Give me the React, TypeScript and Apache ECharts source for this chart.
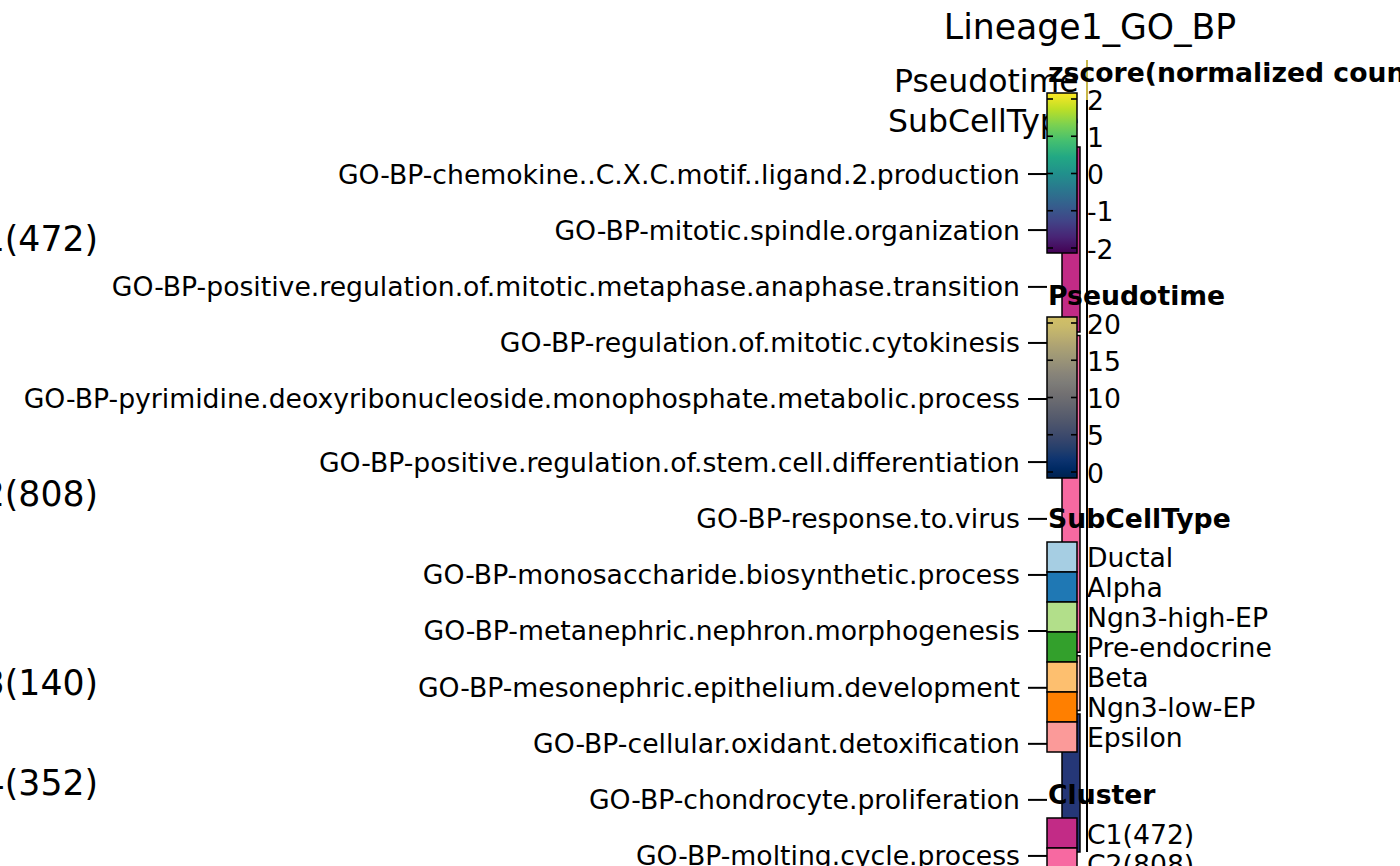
import React, { useEffect, useRef } from "react";
import * as echarts from "echarts";

const FONT = "DejaVu Sans";
const FS = 26.67; // 10pt at 192 dpi
const FS_BIG = 34.67; // 13pt at 192 dpi
const FS_ANNO = 31.5;

const titleText = "Lineage1_GO_BP";
const clusterNames = ["C1", "C2", "C3", "C4"];
const clusterCounts = [472, 808, 140, 352];
const clusterColors = ["#c22b86", "#f769a1", "#fcc5c1", "#253777"];
const SLICE_GAP = 9;

const goTerms = [
  "GO-BP-chemokine..C.X.C.motif..ligand.2.production",
  "GO-BP-mitotic.spindle.organization",
  "GO-BP-positive.regulation.of.mitotic.metaphase.anaphase.transition",
  "GO-BP-regulation.of.mitotic.cytokinesis",
  "GO-BP-pyrimidine.deoxyribonucleoside.monophosphate.metabolic.process",
  "GO-BP-positive.regulation.of.stem.cell.differentiation",
  "GO-BP-response.to.virus",
  "GO-BP-monosaccharide.biosynthetic.process",
  "GO-BP-metanephric.nephron.morphogenesis",
  "GO-BP-mesonephric.epithelium.development",
  "GO-BP-cellular.oxidant.detoxification",
  "GO-BP-chondrocyte.proliferation",
  "GO-BP-molting.cycle.process",
];
// label (mark) positions along the row axis, in row units
const goTermPos = [69, 212, 357, 500, 643, 804, 949, 1092, 1235, 1380, 1523, 1666, 1809];

const annoNames = ["Pseudotime", "SubCellType"];

const zscoreTicks = [2, 1, 0, -1, -2];
const pseudotimeTicks = [20, 15, 10, 5, 0];
const subCellTypes = ["Ductal", "Alpha", "Ngn3-high-EP", "Pre-endocrine", "Beta", "Ngn3-low-EP", "Epsilon"];
const subCellColors = ["#A6CEE3", "#1F78B4", "#B2DF8A", "#33A02C", "#FDBF6F", "#FF7F00", "#FB9A99"];

// bottom -> top
const viridis = ["#440154", "#482475", "#414487", "#355F8D", "#2A788E", "#21918C", "#22A884", "#44BF70", "#7AD151", "#BDDF26", "#FDE725"];
const cividisPart = ["#00224E", "#002A64", "#0E3470", "#233E6C", "#35456C", "#434E6C", "#50576C", "#5C606E", "#686970", "#737172", "#7D7C78", "#888479", "#958F78", "#A19A76", "#AEA373", "#BCAF6F", "#C9BA6A", "#D2C066"];

function gradient(colorsBottomToTop: string[]) {
  const n = colorsBottomToTop.length;
  const stops = colorsBottomToTop
    .map((c, i) => ({ offset: 1 - i / (n - 1), color: c }))
    .reverse();
  return new echarts.graphic.LinearGradient(0, 0, 0, 1, stops);
}

export default function App() {
  const ref = useRef<HTMLDivElement>(null);

  useEffect(() => {
    if (!ref.current) return;
    const chart = echarts.init(ref.current, undefined, { renderer: "svg" });

    // slices with gaps in row units
    const slices: number[][] = [];
    let cur = 0;
    clusterCounts.forEach((c, i) => {
      slices.push([i, cur, cur + c]);
      cur += c + (i < clusterCounts.length - 1 ? SLICE_GAP : 0);
    });
    const total = cur;

    const gridTop = 147;
    const gridH = 705;

    const graphics: any[] = [];
    const Z = 100;

    // title
    graphics.push({
      type: "text", x: 1090, y: 27, z: Z,
      style: { text: titleText, fontSize: FS_BIG, fontFamily: FONT, fill: "#000", align: "center", verticalAlign: "middle" },
    });
    // column annotation names
    const annoX = [894, 888];
    annoNames.forEach((n, i) => {
      graphics.push({
        type: "text", x: annoX[i], y: 81 + i * 40, z: 20,
        style: { text: n, fontSize: FS_ANNO, fontFamily: FONT, fill: "#000", align: "left", verticalAlign: "middle" },
      });
    });
    // collapsed heatmap body
    graphics.push({ type: "rect", z: 30, shape: { x: 1086, y: 60, width: 2, height: 40 }, style: { fill: "#C9B74A" } });
    graphics.push({ type: "rect", z: 30, shape: { x: 1086, y: 100, width: 2, height: 752 }, style: { fill: "#000" } });

    const legendTitle = (t: string, y: number) =>
      graphics.push({
        type: "text", x: 1048, y, z: Z + 2,
        style: { text: t, fontSize: FS, fontWeight: "bold", fontFamily: FONT, fill: "#000", align: "left", verticalAlign: "middle" },
      });
    const legendLabel = (t: string, y: number) =>
      graphics.push({
        type: "text", x: 1087, y, z: Z + 2,
        style: { text: t, fontSize: FS, fontFamily: FONT, fill: "#000", align: "left", verticalAlign: "middle" },
      });

    const colorBar = (top: number, bottom: number, colors: string[], ticks: number[], yOf: (v: number) => number) => {
      graphics.push({
        type: "rect", z: Z, shape: { x: 1047, y: top, width: 30, height: bottom - top },
        style: { fill: gradient(colors), stroke: "#000", lineWidth: 1.5 },
      });
      ticks.forEach((v) => {
        const y = yOf(v);
        graphics.push({ type: "line", z: Z + 1, shape: { x1: 1047, y1: y, x2: 1053, y2: y }, style: { stroke: "#000", lineWidth: 1.6 } });
        graphics.push({ type: "line", z: Z + 1, shape: { x1: 1071, y1: y, x2: 1077, y2: y }, style: { stroke: "#000", lineWidth: 1.6 } });
        legendLabel(String(v), y + 1);
      });
    };

    // zscore legend
    legendTitle("zscore(normalized counts)", 72);
    colorBar(93, 253, viridis, zscoreTicks, (v) => 99 + (2 - v) * 37.25);

    // pseudotime legend
    legendTitle("Pseudotime", 295);
    colorBar(317, 478, cividisPart, pseudotimeTicks, (v) => 323 + (20 - v) * 7.45);

    // SubCellType legend
    legendTitle("SubCellType", 518);
    subCellTypes.forEach((t, i) => {
      const top = 542 + i * 30;
      graphics.push({ type: "rect", z: Z, shape: { x: 1047, y: top, width: 30, height: 30 }, style: { fill: subCellColors[i], stroke: "#000", lineWidth: 1.5 } });
      legendLabel(t, top + 15);
    });

    // Cluster legend
    legendTitle("Cluster", 794);
    clusterNames.forEach((n, i) => {
      const top = 818 + i * 30;
      graphics.push({ type: "rect", z: Z, shape: { x: 1047, y: top, width: 30, height: 30 }, style: { fill: clusterColors[i], stroke: "#000", lineWidth: 1.5 } });
      legendLabel(`${n}(${clusterCounts[i]})`, top + 16);
    });

    const option: any = {
      animation: false,
      backgroundColor: "#fff",
      grid: [
        { left: 1062, top: gridTop, width: 18, height: gridH },
        { left: 1028, top: gridTop, width: 19, height: gridH },
      ],
      xAxis: [
        { type: "value", gridIndex: 0, min: 0, max: 1, show: false },
        { type: "value", gridIndex: 1, min: 0, max: 1, show: false },
      ],
      yAxis: [
        { type: "value", gridIndex: 0, min: 0, max: total, inverse: true, show: false },
        { type: "value", gridIndex: 1, min: 0, max: total, inverse: true, show: false },
      ],
      series: [
        {
          type: "custom",
          xAxisIndex: 0,
          yAxisIndex: 0,
          clip: false,
          data: slices,
          renderItem: (params: any, api: any) => {
            const idx = api.value(0);
            const p0 = api.coord([0, api.value(1)]);
            const p1 = api.coord([1, api.value(2)]);
            return {
              type: "group",
              children: [
                {
                  type: "rect",
                  shape: { x: p0[0], y: p0[1], width: p1[0] - p0[0], height: p1[1] - p0[1] },
                  style: { fill: clusterColors[idx], stroke: "#000", lineWidth: 1.5 },
                },
                {
                  type: "text",
                  style: {
                    x: 98,
                    y: (p0[1] + p1[1]) / 2,
                    text: `${clusterNames[idx]}(${clusterCounts[idx]})`,
                    fontSize: FS_BIG,
                    fontFamily: FONT,
                    fill: "#000",
                    align: "right",
                    verticalAlign: "middle",
                  },
                },
              ],
            };
          },
        },
        {
          type: "scatter",
          xAxisIndex: 1,
          yAxisIndex: 1,
          clip: false,
          symbol: "rect",
          symbolSize: [19, 2],
          itemStyle: { color: "#000", opacity: 1 },
          label: {
            show: true,
            position: "left",
            distance: 8,
            formatter: "{b}",
            fontSize: FS,
            fontFamily: FONT,
            color: "#000",
            opacity: 1,
          },
          emphasis: { disabled: true },
          data: goTerms.map((t, i) => ({ name: t, value: [0.5, goTermPos[i]] })),
        },
      ],
      graphic: { elements: graphics },
    };

    chart.setOption(option);
    return () => chart.dispose();
  }, []);

  return (
    <div
      ref={ref}
      style={{ position: "fixed", left: 0, top: 0, width: 1400, height: 866, background: "#fff" }}
    />
  );
}
